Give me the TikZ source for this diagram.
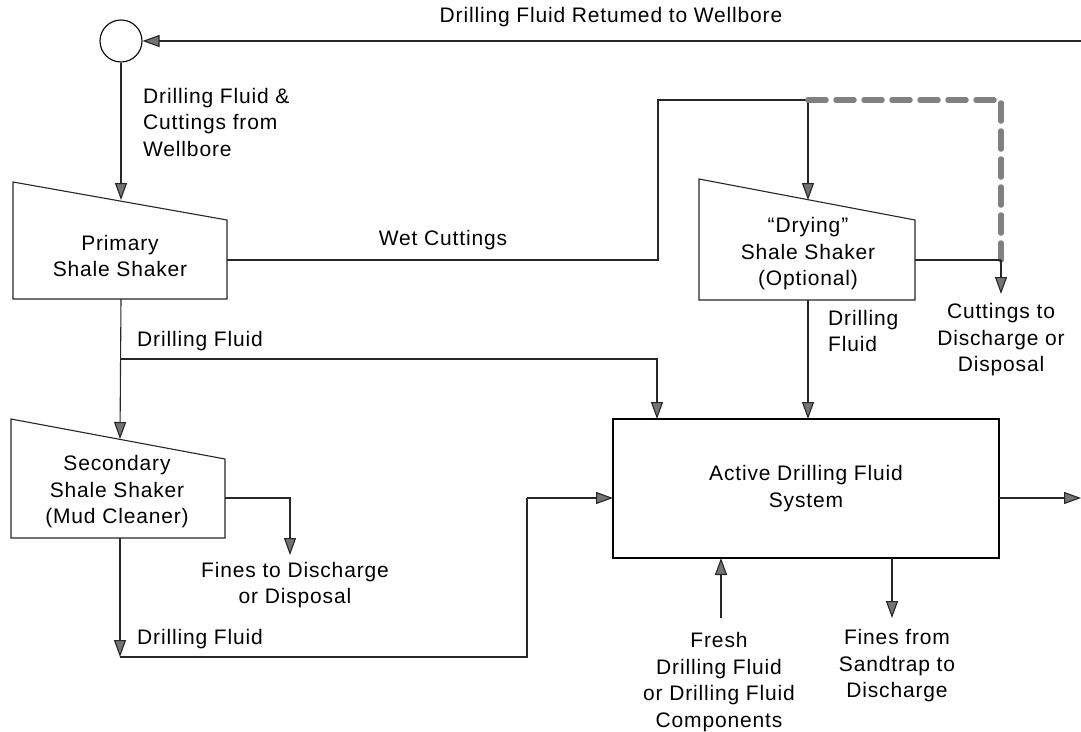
\documentclass[tikz,border=0pt]{standalone}
\usepackage{fontspec}
\setmainfont{Liberation Sans}[LetterSpace=4]
\usetikzlibrary{arrows.meta}
\begin{document}
\begin{tikzpicture}[x=1pt,y=-1pt,
  every node/.style={font=\fontsize{21}{26.5}\selectfont, inner sep=2pt},
  ln/.style={line width=1.1pt, draw=black!85},
  arr/.style={ln, -{Triangle[length=17pt,width=12pt,fill=black!55]}},
  shaker/.style={ln},
  lbl/.style={align=center},
  lbll/.style={align=left, anchor=west},
  dsh/.style={line width=5.5pt, draw=black!50, dash pattern=on 18pt off 10pt, line cap=round}
]
\useasboundingbox (0,0) rectangle (1081,731);

% well
\node[draw, line width=1.1pt, circle, minimum size=42pt, inner sep=0pt] (well) at (121,41) {};
\node[lbl] (toplbl) at (611,17) {Drilling Fluid Retumed to Wellbore};
\coordinate (topR) at (1081,41);
\draw[arr] (topR) -- (well.east);

\node[lbll] (dfc) at (141,122) {Drilling Fluid \&\\Cuttings from\\Wellbore};

% primary shaker
\draw[shaker] (13,182) -- (227,220) -- (227,299) -- (13,299) -- cycle;
\node[lbl] (prim) at (120,256) {Primary\\Shale Shaker};
\coordinate (primT) at (121,200);
\coordinate (primR) at (227,260);
\coordinate (primB) at (121,299);
\draw[arr] (well.south) -- (primT);

% drying shaker
\draw[shaker] (699,179) -- (915,220) -- (915,300) -- (699,300) -- cycle;
\node[lbl] (dry) at (808,254) {``Drying''\\Shale Shaker\\(Optional)};
\coordinate (dryT) at (808,200);
\coordinate (dryR) at (915,260);
\coordinate (dryB) at (808,300);

% secondary shaker
\draw[shaker] (11,419) -- (225,459) -- (225,538) -- (11,538) -- cycle;
\node[lbl] (sec) at (117,492) {Secondary\\Shale Shaker\\(Mud Cleaner)};
\coordinate (secT) at (120,439);
\coordinate (secR) at (225,498);
\coordinate (secB) at (120,538);

% active system
\node[draw, line width=1.1pt, minimum width=386pt, minimum height=139pt, align=center] (act) at (806,488.5) {Active Drilling Fluid\\System};
\coordinate (actT1) at (657,419);
\coordinate (actT2) at (808,419);
\coordinate (actL) at (613,498);
\coordinate (actR) at (999,498);
\coordinate (actB1) at (721,558);
\coordinate (actB2) at (892,558);

% wet cuttings
\coordinate (wc) at (658,100);
\coordinate (split) at (808,100);
\draw[arr] (primR) -| (wc) -- (split) -- (dryT);
\node[lbl] (wetl) at (443,240) {Wet Cuttings};

% dashed bypass
\coordinate (cj) at (1001,260);
\draw[dsh] (split) -| (cj);
\node[lbl] (cut) at (1001,340) {Cuttings to\\Discharge or\\Disposal};
\coordinate (cutT) at (1001,294);
\draw[ln] (dryR) -- (cj);
\draw[arr] (cj) -- (cutT);

% primary drilling fluid
\coordinate (pj) at (121,359);
\draw[arr] (primB) -- (secT);
\draw[arr] (pj) -| (actT1);
\node[lbll] (pdf) at (135,341) {Drilling Fluid};

% drying drilling fluid
\draw[arr] (dryB) -- (actT2);
\node[lbll] (ddf) at (826,331) {Drilling\\Fluid};

% fines from secondary
\node[lbl] (fines) at (295,585) {Fines to Discharge\\or Disposal};
\coordinate (fT) at (290,555);
\draw[arr] (secR) -| (fT);

% secondary drilling fluid
\coordinate (sb) at (120,657);
\coordinate (bc) at (527,498);
\draw[arr] (secB) -- (sb);
\draw[ln] (sb) -| (bc);
\draw[arr] (bc) -- (actL);
\node[lbll] (sdf) at (135,639) {Drilling Fluid};

% out arrow
\coordinate (outE) at (1081,498);
\draw[arr] (actR) -- (outE);

% fresh
\node[lbl] (fresh) at (719,682) {Fresh\\Drilling Fluid\\or Drilling Fluid\\Components};
\coordinate (frT) at (721,618);
\draw[arr] (frT) -- (actB1);

% fines from sandtrap
\node[lbl] (sand) at (897,666) {Fines from\\Sandtrap to\\Discharge};
\coordinate (sdT) at (892,618);
\draw[arr] (actB2) -- (sdT);
\end{tikzpicture}
\end{document}
